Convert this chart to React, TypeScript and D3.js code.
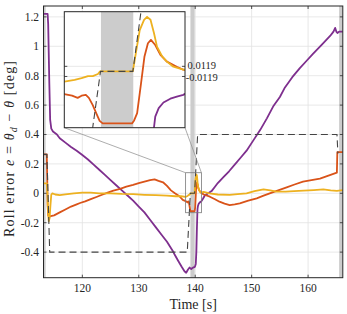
import React from "react";
import * as d3 from "d3";

const W = 347, H = 314;
const X0 = 43.5, X1 = 342.8, Y0 = 6, Y1 = 277.7;
const xDomain = [113.12, 166.15];
const yDomain = [-0.574, 1.274];

const xTicks = [120, 130, 140, 150, 160];
const yTicks = [-0.4, -0.2, 0, 0.2, 0.4, 0.6, 0.8, 1, 1.2];
const yTickLabels = ["-0.4", "-0.2", "0", "0.2", "0.4", "0.6", "0.8", "1", "1.2"];

const shadedBands = [[113.12, 113.5], [139.15, 139.9], [165.5, 166.15]];

const insetXDomain = [138.3, 141.1];
const insetYDomain = [-0.132, 0.14];
const insetTicks = [0.0119, -0.0119];
const insetTickLabels = ["0.0119", "-0.0119"];

// purple series
const purpleT = [113.12, 113.85, 113.95, 114.15, 114.3, 114.5, 114.8, 115.5, 116, 117, 118, 119, 120, 121, 122, 123, 124, 125, 126, 127, 128, 129, 130, 131, 132, 133, 134, 135, 136, 136.4, 137, 137.6, 138.1, 138.4, 138.7, 139.0, 139.3, 139.6, 139.95, 140.1, 140.2, 140.3, 140.38, 140.41, 140.49, 140.6, 140.76, 140.91, 141.06, 141.4, 141.7, 142.3, 142.9, 143.5, 144, 145, 146, 147, 148, 149.1, 150.3, 151.5, 152.7, 153.8, 155, 155.9, 157.2, 158.5, 159.7, 160.9, 162.4, 163.9, 164.5, 164.8, 165.0, 165.2, 165.5, 166.15];
const purpleV = [1.22, 1.22, 1.15, 0.75, 0.5, 0.44, 0.42, 0.4, 0.375, 0.345, 0.315, 0.29, 0.26, 0.23, 0.195, 0.16, 0.125, 0.09, 0.055, 0.02, -0.015, -0.05, -0.09, -0.13, -0.18, -0.23, -0.28, -0.33, -0.39, -0.42, -0.46, -0.5, -0.53, -0.54, -0.52, -0.505, -0.515, -0.505, -0.5, -0.48, -0.4, -0.24, -0.132, -0.106, -0.086, -0.073, -0.064, -0.059, -0.055, -0.035, -0.015, 0.0, 0.015, 0.045, 0.07, 0.11, 0.15, 0.195, 0.24, 0.29, 0.36, 0.43, 0.51, 0.59, 0.655, 0.72, 0.79, 0.85, 0.9, 0.95, 1.01, 1.07, 1.1, 1.125, 1.1, 1.09, 1.1, 1.1];

// orange series
const orangeT = [113.12, 113.7, 113.78, 113.85, 113.95, 114.1, 114.4, 115, 116, 117, 118, 119, 119.6, 120.5, 121.5, 122.5, 123.5, 124.5, 125.5, 126.7, 127.8, 129, 130, 131, 132, 132.8, 133.5, 134.3, 135, 135.7, 136.4, 137.2, 137.8, 138.3, 138.48, 138.61, 138.7, 138.8, 138.87, 138.96, 139.05, 139.12, 139.19, 139.87, 139.92, 139.99, 140.08, 140.16, 140.24, 140.31, 140.41, 140.53, 140.68, 140.91, 141.06, 141.5, 142.6, 143.5, 144.3, 145.2, 146.1, 147, 147.9, 149.4, 150.9, 152, 153.2, 154.7, 156.2, 157.6, 159.1, 160.6, 162.1, 163.6, 165.1, 165.18, 166.15];
const orangeV = [0.265, 0.265, 0.1, -0.08, -0.15, -0.16, -0.155, -0.15, -0.13, -0.11, -0.09, -0.075, -0.066, -0.055, -0.04, -0.025, -0.01, 0.005, 0.018, 0.03, 0.045, 0.058, 0.07, 0.08, 0.09, 0.095, 0.085, 0.075, 0.05, 0.02, 0.0, -0.02, -0.045, -0.053, -0.057, -0.062, -0.057, -0.055, -0.062, -0.079, -0.1, -0.116, -0.122, -0.122, -0.115, -0.098, -0.028, 0.035, 0.066, 0.074, 0.062, 0.039, 0.023, 0.011, 0.004, -0.008, -0.023, -0.04, -0.057, -0.07, -0.08, -0.075, -0.068, -0.05, -0.034, -0.018, 0.0, 0.02, 0.04, 0.06, 0.079, 0.09, 0.1, 0.12, 0.14, 0.28, 0.28];

// yellow series
const yellowT = [113.12, 113.72, 113.8, 113.9, 114.05, 114.2, 114.35, 114.5, 114.7, 115.2, 116, 117, 118.5, 120, 121.5, 123, 125, 127, 129, 131, 133, 135, 136.5, 137.5, 138.3, 138.54, 138.7, 138.85, 138.96, 139.08, 139.13, 139.89, 139.96, 140.05, 140.15, 140.22, 140.3, 140.38, 140.45, 140.57, 140.68, 140.83, 141.06, 141.5, 142.5, 144, 146.1, 147.5, 149.1, 150.5, 152.1, 153.3, 154.4, 156, 157.5, 159.2, 161, 162.7, 164, 165.1, 166.15];
const yellowV = [0.068, 0.068, 0.0, -0.1, -0.19, -0.17, -0.08, -0.01, 0.0, -0.008, -0.012, -0.007, 0.0, 0.004, 0.004, 0.0, 0.0, -0.004, -0.006, -0.01, -0.013, -0.016, -0.02, -0.02, -0.024, -0.02, -0.016, -0.011, -0.011, -0.006, 0.0, 0.0, 0.043, 0.097, 0.121, 0.128, 0.121, 0.09, 0.058, 0.035, 0.023, 0.011, 0.004, 0.01, 0.0, -0.008, -0.01, -0.005, 0.0, 0.015, 0.027, 0.02, 0.011, 0.012, 0.015, 0.018, 0.022, 0.027, 0.02, 0.016, 0.022];

// dashed reference
const refT = [113.12, 113.72, 114.22, 138.59, 139.14, 139.89, 140.43, 165.12, 165.28];
const refV = [0.265, 0.265, -0.4, -0.4, 0.0, 0.0, 0.4, 0.4, 0.27];

const series = [
  { t: purpleT, v: purpleV, color: "#7E2F8E" },
  { t: orangeT, v: orangeV, color: "#D95319" },
  { t: yellowT, v: yellowV, color: "#EDB120" },
];

const FONT = '"Liberation Serif", "DejaVu Serif", serif';
const AX = "#262626";

export default function App() {
  const x = d3.scaleLinear().domain(xDomain).range([X0, X1]);
  const y = d3.scaleLinear().domain(yDomain).range([Y1, Y0]);

  const IX0 = 64.3, IX1 = 185, IY0 = 11.7, IY1 = 127.7;
  const ix = d3.scaleLinear().domain(insetXDomain).range([IX0, IX1]);
  const iy = d3.scaleLinear().domain(insetYDomain).range([IY1, IY0]);

  const path = (sx: any, sy: any, t: number[], v: number[]) =>
    d3
      .line<number>()
      .x((d, i) => sx(t[i]))
      .y((d, i) => sy(v[i]))(v) || "";

  const rx0 = x(insetXDomain[0]), rx1 = x(insetXDomain[1]);
  const ry0 = y(insetYDomain[1]), ry1 = y(insetYDomain[0]);

  const tick = 3;
  const tf = { fontFamily: FONT };

  return (
    <svg width={W} height={H} style={{ display: "block", position: "absolute", left: 0, top: 0, fontFamily: FONT }}>
      <defs>
        <clipPath id="mainclip">
          <rect x={X0} y={Y0} width={X1 - X0} height={Y1 - Y0} />
        </clipPath>
        <clipPath id="insetclip">
          <rect x={IX0} y={IY0} width={IX1 - IX0} height={IY1 - IY0} />
        </clipPath>
      </defs>
      <rect x={0} y={0} width={W} height={H} fill="#fff" />
      <g clipPath="url(#mainclip)">
        {xTicks.map((t) => (
          <line key={"gx" + t} x1={x(t)} x2={x(t)} y1={Y0} y2={Y1} stroke="#e2e2e2" strokeWidth={0.8} />
        ))}
        {yTicks.map((t) => (
          <line key={"gy" + t} x1={X0} x2={X1} y1={y(t)} y2={y(t)} stroke="#e2e2e2" strokeWidth={0.8} />
        ))}
        {shadedBands.map((b, i) => (
          <rect key={"b" + i} x={x(b[0])} y={Y0} width={x(b[1]) - x(b[0])} height={Y1 - Y0} fill="#cccccc" />
        ))}
        {series.map((s, i) => (
          <path key={"s" + i} d={path(x, y, s.t, s.v)} fill="none" stroke={s.color} strokeWidth={1.8} strokeLinejoin="round" />
        ))}
        <path d={path(x, y, refT, refV)} fill="none" stroke="#444" strokeWidth={1.1} strokeDasharray="7,4" />
      </g>
      <rect x={X0} y={Y0} width={X1 - X0} height={Y1 - Y0} fill="none" stroke={AX} strokeWidth={1} />
      {xTicks.map((t) => (
        <g key={"xt" + t}>
          <line x1={x(t)} x2={x(t)} y1={Y1} y2={Y1 - tick} stroke={AX} strokeWidth={0.8} />
          <line x1={x(t)} x2={x(t)} y1={Y0} y2={Y0 + tick} stroke={AX} strokeWidth={0.8} />
          <text x={x(t)} y={292} fontSize={11.5} textAnchor="middle" fill="#262626" style={tf}>{t}</text>
        </g>
      ))}
      {yTicks.map((t, i) => (
        <g key={"yt" + t}>
          <line x1={X0} x2={X0 + tick} y1={y(t)} y2={y(t)} stroke={AX} strokeWidth={0.8} />
          <line x1={X1} x2={X1 - tick} y1={y(t)} y2={y(t)} stroke={AX} strokeWidth={0.8} />
          <text x={39} y={y(t) + 4} fontSize={11.5} textAnchor="end" fill="#262626" style={tf}>{yTickLabels[i]}</text>
        </g>
      ))}
      <text x={(X0 + X1) / 2} y={309} fontSize={14} textAnchor="middle" fill="#262626" style={tf}>Time [s]</text>
      <text transform="translate(13.5,149) rotate(-90)" fontSize={14} textAnchor="middle" fill="#262626" textLength={176} lengthAdjust="spacing" style={tf}>
        <tspan>Roll error </tspan>
        <tspan fontStyle="italic">e</tspan>
        <tspan> = </tspan>
        <tspan fontStyle="italic">θ</tspan>
        <tspan fontStyle="italic" fontSize={10} dy={3}>d</tspan>
        <tspan dy={-3}> − </tspan>
        <tspan fontStyle="italic">θ</tspan>
        <tspan> [deg]</tspan>
      </text>
      <rect x={rx0} y={ry0} width={rx1 - rx0} height={ry1 - ry0} fill="none" stroke="#7a7a7a" strokeWidth={0.8} />
      <line x1={IX0} y1={IY1} x2={rx0} y2={ry0} stroke="#8a8a8a" strokeWidth={0.7} />
      <line x1={IX1} y1={IY1} x2={rx1} y2={ry0} stroke="#8a8a8a" strokeWidth={0.7} />
      <rect x={IX0} y={IY0} width={IX1 - IX0} height={IY1 - IY0} fill="#fff" />
      <g clipPath="url(#insetclip)">
        {insetTicks.map((t) => (
          <line key={"ig" + t} x1={IX0} x2={IX1} y1={iy(t)} y2={iy(t)} stroke="#e2e2e2" strokeWidth={0.8} />
        ))}
        <rect x={ix(shadedBands[1][0])} y={IY0} width={ix(shadedBands[1][1]) - ix(shadedBands[1][0])} height={IY1 - IY0} fill="#cccccc" />
        {series.map((s, i) => (
          <path key={"is" + i} d={path(ix, iy, s.t, s.v)} fill="none" stroke={s.color} strokeWidth={1.8} strokeLinejoin="round" />
        ))}
        <path d={path(ix, iy, refT, refV)} fill="none" stroke="#444" strokeWidth={1.1} strokeDasharray="7,4" />
      </g>
      <rect x={IX0} y={IY0} width={IX1 - IX0} height={IY1 - IY0} fill="none" stroke={AX} strokeWidth={1} />
      {insetTicks.map((t, i) => (
        <g key={"it" + t}>
          <line x1={IX0} x2={IX0 + tick} y1={iy(t)} y2={iy(t)} stroke={AX} strokeWidth={0.8} />
          <line x1={IX1} x2={IX1 - tick} y1={iy(t)} y2={iy(t)} stroke={AX} strokeWidth={0.8} />
          <text x={t > 0 ? 187.5 : 185.7} y={t > 0 ? iy(t) + 2.5 : iy(t) + 5} fontSize={10.5} fill="#262626" style={tf}>{insetTickLabels[i]}</text>
        </g>
      ))}
    </svg>
  );
}
